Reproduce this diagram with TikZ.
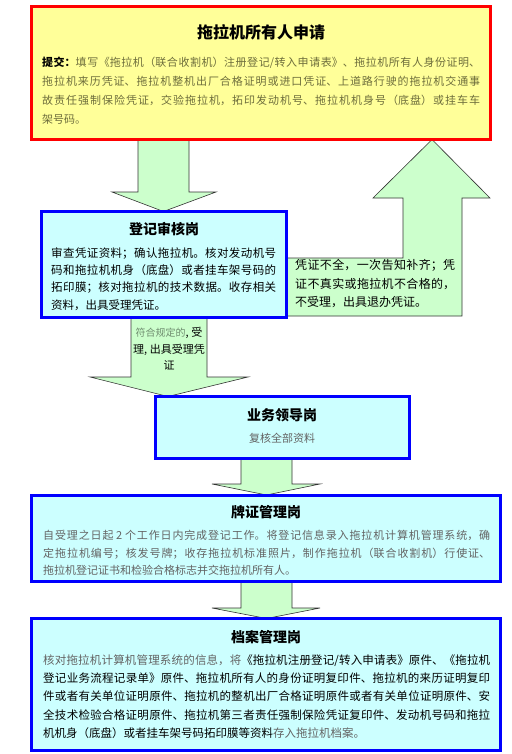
\documentclass[tikz,border=0pt]{standalone}
\usepackage{fontspec}
\setmainfont{Noto Sans CJK SC}
\XeTeXlinebreaklocale "zh"
\XeTeXlinebreakskip=0pt plus 4pt
\definecolor{yfill}{HTML}{FFFF99}
\definecolor{cfill}{HTML}{CCFFFF}
\definecolor{gfill}{HTML}{CCFFCC}
\definecolor{olivetext}{RGB}{110,110,60}
\definecolor{graytext}{RGB}{100,100,100}
\definecolor{greentext}{RGB}{110,140,110}
\begin{document}
\begin{tikzpicture}[x=1pt,y=-1pt,
  redbox/.style={draw=red,line width=3pt,fill=yfill,inner sep=0pt,outer sep=0pt,anchor=north west},
  bluebox/.style={draw=blue,line width=3pt,fill=cfill,inner sep=0pt,outer sep=0pt,anchor=north west},
  blockarrow/.style={fill=gfill,draw=black!80,line width=0.6pt},
  title/.style={inner sep=0pt,anchor=base,font=\fontsize{14}{16}\selectfont\bfseries},
  body/.style={inner sep=0pt,anchor=base west,align=justify}]
\useasboundingbox (0,0) rectangle (511,754);
% block arrows
\draw[blockarrow] (138,130) -- (138,192) -- (112,192) -- (163.5,211.5) -- (216,192) -- (189,192) -- (189,130) -- cycle;
\draw[blockarrow] (280,258) -- (403,258) -- (403,198) -- (373,198) -- (432,139.5) -- (490,198) -- (462,198) -- (462,316) -- (280,316) -- cycle;
\draw[blockarrow] (131,310) -- (131,377) -- (90,377) -- (168,396.5) -- (248,377) -- (207,377) -- (207,310) -- cycle;
\draw[blockarrow] (241,450) -- (241,484) -- (212,484) -- (266.5,495) -- (320,484) -- (292,484) -- (292,450) -- cycle;
\draw[blockarrow] (241,575) -- (241,608) -- (212,608) -- (266.5,618.5) -- (320,608) -- (292,608) -- (292,575) -- cycle;
% boxes
\node[redbox,minimum width=459pt,minimum height=133pt] (apply) at (31.5,6.5) {};
\node[bluebox,minimum width=245pt,minimum height=105.5pt] (check) at (41.5,211.5) {};
\node[bluebox,minimum width=254pt,minimum height=62pt] (lead) at (155,396.5) {};
\node[bluebox,minimum width=469pt,minimum height=86.5pt] (plate) at (31.5,495) {};
\node[bluebox,minimum width=469pt,minimum height=131.5pt] (archive) at (31.5,618.5) {};
% top box texts
\node[title,font=\fontsize{16}{18}\selectfont\bfseries] (t1) at (261,39) {拖拉机所有人申请};
\node[body,text width=438pt,font=\fontsize{11}{19}\selectfont,text=olivetext] (b1) at (42,66.5)
 {\textcolor{black}{\bfseries 提交：}填写《拖拉机（联合收割机）注册登记/转入申请表》、拖拉机所有人身份证明、\linebreak
 拖拉机来历凭证、拖拉机整机出厂合格证明或进口凭证、上道路行驶的拖拉机交通事\linebreak
 故责任强制保险凭证，交验拖拉机，拓印发动机号、拖拉机机身号（底盘）或挂车车\linebreak
 架号码。};
% check box
\node[title] (t2) at (164,234) {登记审核岗};
\node[body,text width=225pt,font=\fontsize{11.5}{17.2}\selectfont] (b2) at (51,257.5)
 {审查凭证资料；确认拖拉机。核对发动机号\linebreak
 码和拖拉机机身（底盘）或者挂车架号码的\linebreak
 拓印膜；核对拖拉机的技术数据。收存相关\linebreak
 资料，出具受理凭证。};
% return arrow text
\node[body,text width=160pt,font=\fontsize{12}{18.5}\selectfont] (r) at (295,269.5)
 {凭证不全，一次告知补齐；凭\linebreak
 证不真实或拖拉机不合格的，\linebreak
 不受理，出具退办凭证。};
% accept arrow text
\node[inner sep=0pt,anchor=base,align=center,font=\fontsize{11}{16.5}\selectfont] (acc) at (169,369.5)
 {{\fontsize{10}{16.5}\selectfont\color{greentext}符合规定的}, 受\\理, 出具受理凭\\证};
% leader box
\node[title] (t3) at (282,420) {业务领导岗};
\node[inner sep=0pt,anchor=base,font=\fontsize{11}{13}\selectfont,text=graytext] (s3) at (282,442) {复核全部资料};
% plate box
\node[title] (t4) at (266,517) {牌证管理岗};
\node[body,text width=447pt,font=\fontsize{11}{17.5}\selectfont,text=graytext] (b4) at (43,539.5)
 {自受理之日起 2 个工作日内完成登记工作。将登记信息录入拖拉机计算机管理系统，确\linebreak
 定拖拉机编号；核发号牌；收存拖拉机标准照片，制作拖拉机（联合收割机）行使证、\linebreak
 拖拉机登记证书和检验合格标志并交拖拉机所有人。};
% archive box
\node[title] (t5) at (266,642) {档案管理岗};
\node[body,text width=447pt,font=\fontsize{11.5}{18.2}\selectfont] (b5) at (43,664.5)
 {\textcolor{graytext}{核对拖拉机计算机管理系统的信息，将}《拖拉机注册登记/转入申请表》原件、《拖拉机\linebreak
 登记业务流程记录单》原件、拖拉机所有人的身份证明复印件、拖拉机的来历证明复印\linebreak
 件或者有关单位证明原件、拖拉机的整机出厂合格证明原件或者有关单位证明原件、安\linebreak
 全技术检验合格证明原件、拖拉机第三者责任强制保险凭证复印件、发动机号码和拖拉\linebreak
 机机身（底盘）或者挂车架号码拓印膜等资料\textcolor{graytext}{存入拖拉机档案。}};
\end{tikzpicture}
\end{document}
